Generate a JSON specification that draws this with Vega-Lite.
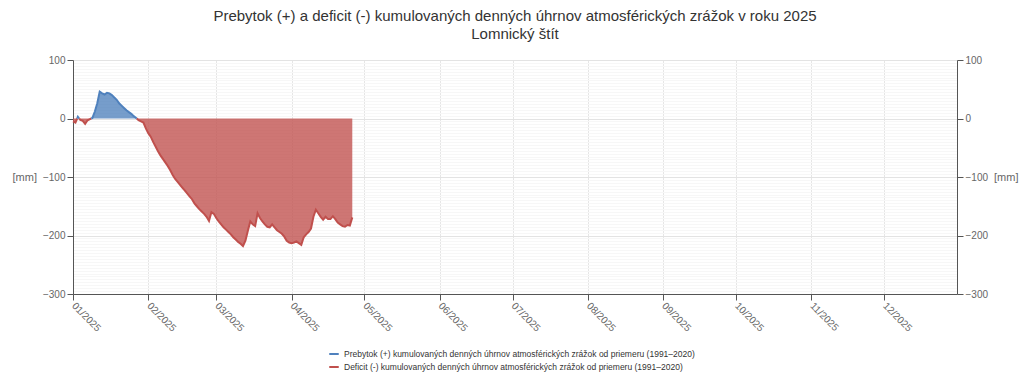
{
  "$schema": "https://vega.github.io/schema/vega-lite/v6.json",
  "autosize": "none",
  "padding": {"left": 73, "top": 60, "right": 67, "bottom": 87},
  "width": 884,
  "height": 234,
  "config": {
    "font": "Liberation Sans",
    "view": {"stroke": null},
    "axis": {"labelColor": "#666666", "labelFontSize": 10, "titleColor": "#666666", "titleFontWeight": "normal", "titleFontSize": 11, "domainColor": "#555555", "tickColor": "#555555"}
  },
  "title": {
    "text": ["Prebytok (+) a deficit (-) kumulovaných denných úhrnov atmosférických zrážok v roku 2025", "Lomnický štít"],
    "fontSize": 15,
    "fontWeight": "normal",
    "color": "#333333",
    "lineHeight": 18,
    "offset": 13,
    "anchor": "middle"
  },
  "data": {
    "values": [
      {"d": "2025-01-01T00:00", "s": "D", "p": "Da", "v": -5},
      {"d": "2025-01-02T00:00", "s": "D", "p": "Da", "v": -7},
      {"d": "2025-01-02T17:00", "s": "D", "p": "Da", "v": 0},
      {"d": "2025-01-02T17:00", "s": "P", "p": "Pa", "v": 0},
      {"d": "2025-01-03T00:00", "s": "P", "p": "Pa", "v": 3},
      {"d": "2025-01-03T13:00", "s": "P", "p": "Pa", "v": 0},
      {"d": "2025-01-03T13:00", "s": "D", "p": "Db", "v": 0},
      {"d": "2025-01-04T00:00", "s": "D", "p": "Db", "v": -2.5},
      {"d": "2025-01-05T00:00", "s": "D", "p": "Db", "v": -4},
      {"d": "2025-01-06T00:00", "s": "D", "p": "Db", "v": -9},
      {"d": "2025-01-07T00:00", "s": "D", "p": "Db", "v": -3},
      {"d": "2025-01-08T00:00", "s": "D", "p": "Db", "v": -1},
      {"d": "2025-01-08T12:00", "s": "D", "p": "Db", "v": 0},
      {"d": "2025-01-08T12:00", "s": "P", "p": "Pb", "v": 0},
      {"d": "2025-01-09T00:00", "s": "P", "p": "Pb", "v": 1},
      {"d": "2025-01-10T00:00", "s": "P", "p": "Pb", "v": 12},
      {"d": "2025-01-11T00:00", "s": "P", "p": "Pb", "v": 26},
      {"d": "2025-01-12T00:00", "s": "P", "p": "Pb", "v": 46},
      {"d": "2025-01-13T00:00", "s": "P", "p": "Pb", "v": 43},
      {"d": "2025-01-14T00:00", "s": "P", "p": "Pb", "v": 41},
      {"d": "2025-01-15T00:00", "s": "P", "p": "Pb", "v": 44},
      {"d": "2025-01-16T00:00", "s": "P", "p": "Pb", "v": 43},
      {"d": "2025-01-17T00:00", "s": "P", "p": "Pb", "v": 40},
      {"d": "2025-01-18T00:00", "s": "P", "p": "Pb", "v": 36},
      {"d": "2025-01-19T00:00", "s": "P", "p": "Pb", "v": 32},
      {"d": "2025-01-20T00:00", "s": "P", "p": "Pb", "v": 26},
      {"d": "2025-01-21T00:00", "s": "P", "p": "Pb", "v": 22},
      {"d": "2025-01-22T00:00", "s": "P", "p": "Pb", "v": 18},
      {"d": "2025-01-23T00:00", "s": "P", "p": "Pb", "v": 14},
      {"d": "2025-01-24T00:00", "s": "P", "p": "Pb", "v": 11},
      {"d": "2025-01-25T00:00", "s": "P", "p": "Pb", "v": 8},
      {"d": "2025-01-26T00:00", "s": "P", "p": "Pb", "v": 4},
      {"d": "2025-01-27T00:00", "s": "P", "p": "Pb", "v": 1},
      {"d": "2025-01-27T06:00", "s": "P", "p": "Pb", "v": 0},
      {"d": "2025-01-27T06:00", "s": "D", "p": "Dc", "v": 0},
      {"d": "2025-01-28T00:00", "s": "D", "p": "Dc", "v": -3},
      {"d": "2025-01-29T00:00", "s": "D", "p": "Dc", "v": -5},
      {"d": "2025-01-30T00:00", "s": "D", "p": "Dc", "v": -7},
      {"d": "2025-01-31T00:00", "s": "D", "p": "Dc", "v": -17},
      {"d": "2025-02-01T00:00", "s": "D", "p": "Dc", "v": -25},
      {"d": "2025-02-02T00:00", "s": "D", "p": "Dc", "v": -31},
      {"d": "2025-02-03T00:00", "s": "D", "p": "Dc", "v": -40},
      {"d": "2025-02-04T00:00", "s": "D", "p": "Dc", "v": -48},
      {"d": "2025-02-05T00:00", "s": "D", "p": "Dc", "v": -56},
      {"d": "2025-02-06T00:00", "s": "D", "p": "Dc", "v": -63},
      {"d": "2025-02-07T00:00", "s": "D", "p": "Dc", "v": -69},
      {"d": "2025-02-08T00:00", "s": "D", "p": "Dc", "v": -75},
      {"d": "2025-02-09T00:00", "s": "D", "p": "Dc", "v": -81},
      {"d": "2025-02-10T00:00", "s": "D", "p": "Dc", "v": -88},
      {"d": "2025-02-11T00:00", "s": "D", "p": "Dc", "v": -96},
      {"d": "2025-02-12T00:00", "s": "D", "p": "Dc", "v": -103},
      {"d": "2025-02-13T00:00", "s": "D", "p": "Dc", "v": -108},
      {"d": "2025-02-14T00:00", "s": "D", "p": "Dc", "v": -113},
      {"d": "2025-02-15T00:00", "s": "D", "p": "Dc", "v": -118},
      {"d": "2025-02-16T00:00", "s": "D", "p": "Dc", "v": -123},
      {"d": "2025-02-17T00:00", "s": "D", "p": "Dc", "v": -128},
      {"d": "2025-02-18T00:00", "s": "D", "p": "Dc", "v": -133},
      {"d": "2025-02-19T00:00", "s": "D", "p": "Dc", "v": -138},
      {"d": "2025-02-20T00:00", "s": "D", "p": "Dc", "v": -145},
      {"d": "2025-02-21T00:00", "s": "D", "p": "Dc", "v": -150},
      {"d": "2025-02-22T00:00", "s": "D", "p": "Dc", "v": -155},
      {"d": "2025-02-23T00:00", "s": "D", "p": "Dc", "v": -159},
      {"d": "2025-02-24T00:00", "s": "D", "p": "Dc", "v": -163},
      {"d": "2025-02-25T00:00", "s": "D", "p": "Dc", "v": -168},
      {"d": "2025-02-26T00:00", "s": "D", "p": "Dc", "v": -175},
      {"d": "2025-02-27T00:00", "s": "D", "p": "Dc", "v": -160},
      {"d": "2025-02-28T00:00", "s": "D", "p": "Dc", "v": -163},
      {"d": "2025-03-01T00:00", "s": "D", "p": "Dc", "v": -170},
      {"d": "2025-03-02T00:00", "s": "D", "p": "Dc", "v": -176},
      {"d": "2025-03-03T00:00", "s": "D", "p": "Dc", "v": -181},
      {"d": "2025-03-04T00:00", "s": "D", "p": "Dc", "v": -186},
      {"d": "2025-03-05T00:00", "s": "D", "p": "Dc", "v": -190},
      {"d": "2025-03-06T00:00", "s": "D", "p": "Dc", "v": -194},
      {"d": "2025-03-07T00:00", "s": "D", "p": "Dc", "v": -198},
      {"d": "2025-03-08T00:00", "s": "D", "p": "Dc", "v": -203},
      {"d": "2025-03-09T00:00", "s": "D", "p": "Dc", "v": -207},
      {"d": "2025-03-10T00:00", "s": "D", "p": "Dc", "v": -211},
      {"d": "2025-03-11T00:00", "s": "D", "p": "Dc", "v": -214},
      {"d": "2025-03-12T00:00", "s": "D", "p": "Dc", "v": -218},
      {"d": "2025-03-13T00:00", "s": "D", "p": "Dc", "v": -209},
      {"d": "2025-03-14T00:00", "s": "D", "p": "Dc", "v": -192},
      {"d": "2025-03-15T00:00", "s": "D", "p": "Dc", "v": -176},
      {"d": "2025-03-16T00:00", "s": "D", "p": "Dc", "v": -181},
      {"d": "2025-03-17T00:00", "s": "D", "p": "Dc", "v": -184},
      {"d": "2025-03-18T00:00", "s": "D", "p": "Dc", "v": -162},
      {"d": "2025-03-19T00:00", "s": "D", "p": "Dc", "v": -170},
      {"d": "2025-03-20T00:00", "s": "D", "p": "Dc", "v": -176},
      {"d": "2025-03-21T00:00", "s": "D", "p": "Dc", "v": -181},
      {"d": "2025-03-22T00:00", "s": "D", "p": "Dc", "v": -185},
      {"d": "2025-03-23T00:00", "s": "D", "p": "Dc", "v": -186},
      {"d": "2025-03-24T00:00", "s": "D", "p": "Dc", "v": -181},
      {"d": "2025-03-25T00:00", "s": "D", "p": "Dc", "v": -186},
      {"d": "2025-03-26T00:00", "s": "D", "p": "Dc", "v": -191},
      {"d": "2025-03-27T00:00", "s": "D", "p": "Dc", "v": -194},
      {"d": "2025-03-28T00:00", "s": "D", "p": "Dc", "v": -197},
      {"d": "2025-03-29T00:00", "s": "D", "p": "Dc", "v": -202},
      {"d": "2025-03-30T00:00", "s": "D", "p": "Dc", "v": -209},
      {"d": "2025-03-31T00:00", "s": "D", "p": "Dc", "v": -212},
      {"d": "2025-04-01T00:00", "s": "D", "p": "Dc", "v": -213},
      {"d": "2025-04-02T00:00", "s": "D", "p": "Dc", "v": -212},
      {"d": "2025-04-03T00:00", "s": "D", "p": "Dc", "v": -210},
      {"d": "2025-04-04T00:00", "s": "D", "p": "Dc", "v": -213},
      {"d": "2025-04-05T00:00", "s": "D", "p": "Dc", "v": -216},
      {"d": "2025-04-06T00:00", "s": "D", "p": "Dc", "v": -203},
      {"d": "2025-04-07T00:00", "s": "D", "p": "Dc", "v": -198},
      {"d": "2025-04-08T00:00", "s": "D", "p": "Dc", "v": -194},
      {"d": "2025-04-09T00:00", "s": "D", "p": "Dc", "v": -188},
      {"d": "2025-04-10T00:00", "s": "D", "p": "Dc", "v": -168},
      {"d": "2025-04-11T00:00", "s": "D", "p": "Dc", "v": -156},
      {"d": "2025-04-12T00:00", "s": "D", "p": "Dc", "v": -162},
      {"d": "2025-04-13T00:00", "s": "D", "p": "Dc", "v": -168},
      {"d": "2025-04-14T00:00", "s": "D", "p": "Dc", "v": -173},
      {"d": "2025-04-15T00:00", "s": "D", "p": "Dc", "v": -168},
      {"d": "2025-04-16T00:00", "s": "D", "p": "Dc", "v": -172},
      {"d": "2025-04-17T00:00", "s": "D", "p": "Dc", "v": -172},
      {"d": "2025-04-18T00:00", "s": "D", "p": "Dc", "v": -167},
      {"d": "2025-04-19T00:00", "s": "D", "p": "Dc", "v": -172},
      {"d": "2025-04-20T00:00", "s": "D", "p": "Dc", "v": -178},
      {"d": "2025-04-21T00:00", "s": "D", "p": "Dc", "v": -181},
      {"d": "2025-04-22T00:00", "s": "D", "p": "Dc", "v": -184},
      {"d": "2025-04-23T00:00", "s": "D", "p": "Dc", "v": -185},
      {"d": "2025-04-24T00:00", "s": "D", "p": "Dc", "v": -182},
      {"d": "2025-04-25T00:00", "s": "D", "p": "Dc", "v": -183},
      {"d": "2025-04-26T00:00", "s": "D", "p": "Dc", "v": -169}
    ]
  },
  "encoding": {
    "x": {
      "field": "d",
      "type": "temporal",
      "title": null,
      "scale": {"domain": [{"year": 2025, "month": 1, "date": 1}, {"year": 2025, "month": 12, "date": 31}]},
      "axis": {
        "format": "%m/%Y",
        "tickCount": {"interval": "month", "step": 1},
        "labelAngle": 45,
        "labelAlign": "left",
        "labelBaseline": "middle",
        "labelPadding": 4,
        "labelFlush": false,
        "labelOverlap": false,
        "tickSize": 6,
        "grid": true,
        "gridColor": "#e6e6e6"
      }
    },
    "detail": {"field": "p"}
  },
  "layer": [
    {
      "mark": {"type": "area", "fillOpacity": 0.78, "interpolate": "linear"},
      "encoding": {
        "y": {
          "field": "v",
          "type": "quantitative",
          "title": "[mm]",
          "scale": {"domain": [-300, 100], "nice": false},
          "axis": {
            "orient": "left",
            "values": [-300,-295,-290,-285,-280,-275,-270,-265,-260,-255,-250,-245,-240,-235,-230,-225,-220,-215,-210,-205,-200,-195,-190,-185,-180,-175,-170,-165,-160,-155,-150,-145,-140,-135,-130,-125,-120,-115,-110,-105,-100,-95,-90,-85,-80,-75,-70,-65,-60,-55,-50,-45,-40,-35,-30,-25,-20,-15,-10,-5,0,5,10,15,20,25,30,35,40,45,50,55,60,65,70,75,80,85,90,95,100],
            "labelExpr": "datum.value % 100 === 0 ? datum.label : ''",
            "labelOverlap": false,
            "grid": true,
            "gridColor": {"condition": {"test": "datum.value % 100 === 0", "value": "#e3e3e3"}, "value": "#f7f7f7"},
            "tickOpacity": {"condition": {"test": "datum.value % 100 === 0", "value": 1}, "value": 0},
            "tickSize": 6,
            "labelPadding": 2,
            "titleAngle": 0,
            "titleAlign": "right",
            "titleBaseline": "middle",
            "titlePadding": 6
          }
        },
        "y2": {"datum": 0},
        "fill": {
          "field": "s",
          "type": "nominal",
          "scale": {"domain": ["P", "D"], "range": ["#4f81bd", "#c0504d"]},
          "legend": null
        }
      }
    },
    {
      "mark": {"type": "line", "strokeWidth": 2, "interpolate": "linear"},
      "encoding": {
        "y": {
          "field": "v",
          "type": "quantitative",
          "title": "[mm]",
          "scale": {"domain": [-300, 100], "nice": false},
          "axis": {
            "orient": "right",
            "values": [-300, -200, -100, 0, 100],
            "grid": false,
            "tickSize": 6,
            "labelPadding": 2,
            "titleAngle": 0,
            "titleAlign": "left",
            "titleBaseline": "middle",
            "titlePadding": 6
          }
        },
        "stroke": {
          "field": "s",
          "type": "nominal",
          "scale": {"domain": ["P", "D"], "range": ["#4f81bd", "#c0504d"]},
          "legend": {
            "title": null,
            "orient": "none",
            "legendX": 255,
            "legendY": 288,
            "direction": "vertical",
            "symbolType": "stroke",
            "symbolStrokeWidth": 2,
            "symbolSize": 90,
            "labelFontSize": 8.5,
            "labelColor": "#333333",
            "labelLimit": 0,
            "rowPadding": 2,
            "labelExpr": "datum.label === 'P' ? 'Prebytok (+) kumulovaných denných úhrnov atmosférických zrážok od priemeru (1991–2020)' : 'Deficit (-) kumulovaných denných úhrnov atmosférických zrážok od priemeru (1991–2020)'"
          }
        }
      }
    }
  ],
  "resolve": {"axis": {"y": "independent"}, "legend": {"fill": "independent", "stroke": "independent"}}
}
